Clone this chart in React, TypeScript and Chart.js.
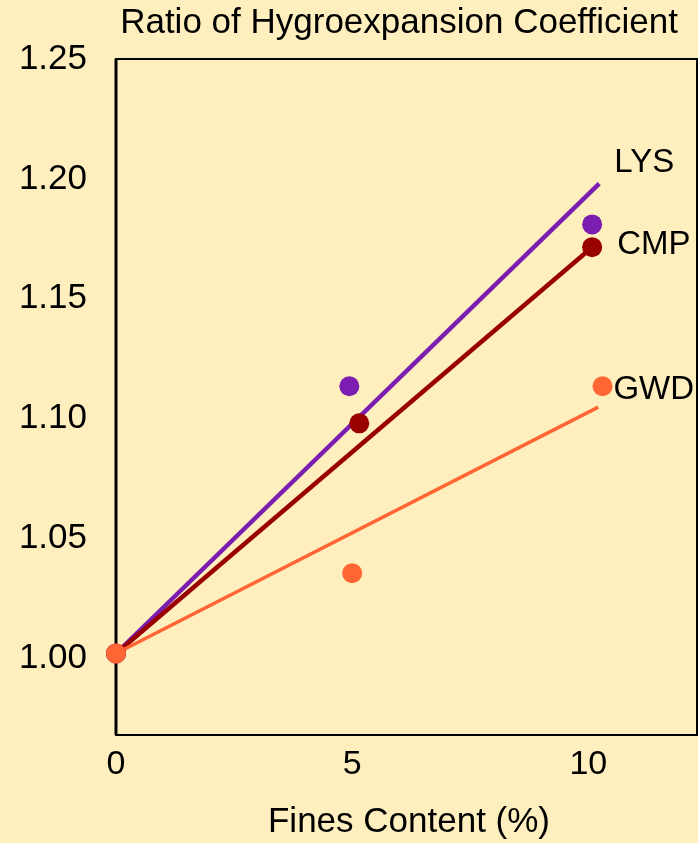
import React, { useEffect, useRef } from "react";
import { Chart, registerables } from "chart.js";

Chart.register(...registerables);

const TITLE = "Ratio of Hygroexpansion Coefficient";
const X_TITLE = "Fines Content (%)";
const SERIES = ["LYS", "CMP", "GWD"];
const COLORS = ["#7A1DB0", "#990000", "#FF6633"];

// measured points (x = fines content %, y = ratio)
const LYS_X = [0, 4.94, 10.08];
const LYS_Y = [1.002, 1.1135, 1.181];
const CMP_X = [0, 5.15, 10.08];
const CMP_Y = [1.002, 1.098, 1.1715];
const GWD_X = [0, 5.0, 10.3];
const GWD_Y = [1.002, 1.0355, 1.1135];

// trend-line endpoints
const LYS_FIT_X = [0, 10.23];
const LYS_FIT_Y = [1.002, 1.198];
const CMP_FIT_X = [0, 10.08];
const CMP_FIT_Y = [1.002, 1.1715];
const GWD_FIT_X = [0, 10.21];
const GWD_FIT_Y = [1.002, 1.1048];

// series label anchors (data coords)
const LABEL_X = [10.55, 10.61, 10.53];
const LABEL_Y = [1.2065, 1.1725, 1.112];

const X_TICKS = [0, 5, 10];
const Y_TICKS = [1.0, 1.05, 1.1, 1.15, 1.2, 1.25];

const FONT = "'Liberation Sans', Arial, sans-serif";

const pts = (xs: number[], ys: number[]) => xs.map((x, i) => ({ x, y: ys[i] }));

export default function App() {
  const ref = useRef<HTMLCanvasElement | null>(null);

  useEffect(() => {
    document.body.style.margin = "0";
    document.body.style.background = "#FFEFBF";
    const canvas = ref.current;
    if (!canvas) return;

    const decor = {
      id: "decor",
      beforeDatasetsDraw(chart: any) {
        const { ctx, chartArea: a } = chart;
        ctx.save();
        ctx.strokeStyle = "#000";
        ctx.lineWidth = 2;
        ctx.strokeRect(a.left, a.top, a.right - a.left, a.bottom - a.top);
        ctx.lineWidth = 3;
        ctx.beginPath();
        ctx.moveTo(a.left, a.top);
        ctx.lineTo(a.left, a.bottom);
        ctx.stroke();
        ctx.restore();
      },
      afterDraw(chart: any) {
        const { ctx, chartArea: a } = chart;
        const xs = chart.scales.x;
        const ys = chart.scales.y;
        ctx.save();
        ctx.fillStyle = "#000";
        ctx.textBaseline = "middle";
        // x tick labels
        ctx.font = `34px ${FONT}`;
        ctx.textAlign = "center";
        X_TICKS.forEach((v) => {
          ctx.fillText(String(v), xs.getPixelForValue(v), a.bottom + 30);
        });
        ctx.font = `35px ${FONT}`;
        ctx.fillText(TITLE, 399, 23);
        ctx.fillText(X_TITLE, 409, 822);
        ctx.font = `33px ${FONT}`;
        ctx.textAlign = "left";
        SERIES.forEach((s, i) => {
          ctx.fillText(s, xs.getPixelForValue(LABEL_X[i]), ys.getPixelForValue(LABEL_Y[i]));
        });
        ctx.restore();
      },
    };

    const lineDs = (xs: number[], ys: number[], color: string, w: number, order: number) => ({
      type: "line" as const,
      data: pts(xs, ys),
      borderColor: color,
      backgroundColor: color,
      borderWidth: w,
      pointRadius: 0,
      showLine: true,
      fill: false,
      clip: false as any,
      order,
    });
    const pointDs = (xs: number[], ys: number[], color: string, order: number) => ({
      type: "scatter" as const,
      data: pts(xs, ys),
      borderColor: color,
      backgroundColor: color,
      borderWidth: 0,
      pointRadius: 10,
      showLine: false,
      clip: false as any,
      order,
    });

    const chart = new Chart(canvas, {
      type: "scatter",
      data: {
        datasets: [
          lineDs(LYS_FIT_X, LYS_FIT_Y, COLORS[0], 4.5, 5),
          lineDs(CMP_FIT_X, CMP_FIT_Y, COLORS[1], 4.5, 4),
          lineDs(GWD_FIT_X, GWD_FIT_Y, COLORS[2], 3.5, 3),
          pointDs(LYS_X, LYS_Y, COLORS[0], 2),
          pointDs(CMP_X, CMP_Y, COLORS[1], 1),
          pointDs(GWD_X, GWD_Y, COLORS[2], 0),
        ] as any,
      },
      options: {
        responsive: false,
        animation: false,
        devicePixelRatio: 1,
        layout: { autoPadding: false, padding: { top: 59, right: 1, left: 0, bottom: 0 } },
        plugins: {
          legend: { display: false },
          title: { display: false },
          tooltip: { enabled: false },
        },
        scales: {
          x: {
            type: "linear",
            min: 0,
            max: 12.3,
            grid: { display: false, drawTicks: false },
            border: { display: false },
            afterFit: (s: any) => {
              s.height = 108;
            },
            afterBuildTicks: (s: any) => {
              s.ticks = X_TICKS.map((v) => ({ value: v }));
            },
            ticks: { display: false },
          },
          y: {
            type: "linear",
            min: 0.968,
            max: 1.25,
            grid: { display: false, drawTicks: false },
            border: { display: false },
            afterFit: (s: any) => {
              s.width = 116;
            },
            afterBuildTicks: (s: any) => {
              s.ticks = Y_TICKS.map((v) => ({ value: v }));
            },
            ticks: {
              color: "#000",
              font: { size: 35, family: FONT },
              padding: 29,
              callback: (v: any) => Number(v).toFixed(2),
            },
          },
        },
      },
      plugins: [decor],
    });

    return () => chart.destroy();
  }, []);

  return (
    <div style={{ width: 698, height: 843, background: "#FFEFBF", position: "relative" }}>
      <canvas ref={ref} width={698} height={843} style={{ display: "block" }} />
    </div>
  );
}
